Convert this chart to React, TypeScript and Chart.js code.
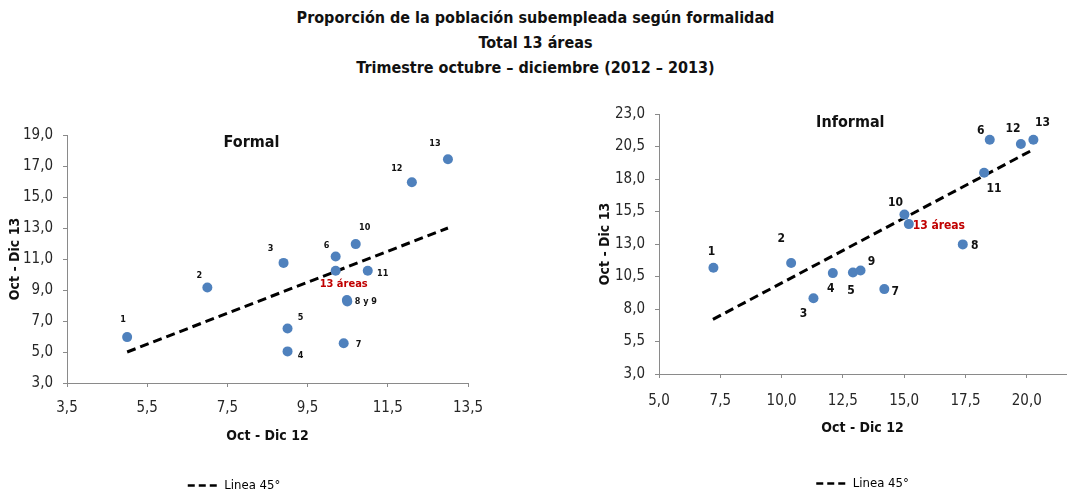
import React, { useEffect, useRef } from 'react';
import { Chart, registerables } from 'chart.js';

Chart.register(...registerables);

const FONT = '"Liberation Sans Narrow", "DejaVu Sans Condensed", "Noto Sans", sans-serif';

// ---------- data ----------
const formalLabels = ['1', '2', '3', '4', '5', '6', '7', '8 y 9', '', '10', '11', '12', '13', '13 áreas'];
const formalOct12 = [5.0, 7.0, 8.9, 9.0, 9.0, 10.2, 10.4, 10.48, 10.49, 10.7, 11.0, 12.1, 13.0, 10.2];
const formalOct13 = [5.96, 9.16, 10.75, 5.04, 6.52, 11.16, 5.56, 8.36, 8.26, 11.96, 10.24, 15.95, 17.43, 10.24];
const formalLineX = [5.0, 13.0];
const formalXTicks = [3.5, 5.5, 7.5, 9.5, 11.5, 13.5];
const formalYTicks = [3, 5, 7, 9, 11, 13, 15, 17, 19];

const informalLabels = ['1', '2', '3', '4', '5', '6', '7', '8', '9', '10', '11', '12', '13', '13 áreas'];
const informalOct12 = [7.22, 10.39, 11.3, 12.09, 12.91, 18.49, 14.19, 17.39, 13.22, 15.01, 18.26, 19.76, 20.27, 15.19];
const informalOct13 = [11.17, 11.54, 8.83, 10.76, 10.81, 21.02, 9.53, 12.97, 10.96, 15.26, 18.48, 20.69, 21.02, 14.53];
const informalLineX = [7.2, 20.3];
const informalXTicks = [5, 7.5, 10, 12.5, 15, 17.5, 20];
const informalYTicks = [3, 5.5, 8, 10.5, 13, 15.5, 18, 20.5, 23];

// ---------- label placement (pixel offsets from the point, style only) ----------
const formalLabelOffsets: [number, number][] = [
  [-4, -17], [-8, -12], [-13, -14], [13, 4], [13, -11], [-9, -11], [15, 1],
  [19, 2], [0, 0], [9, -16], [15, 3], [-15, -14], [-13, -16], [8, 13],
];
const informalLabelOffsets: [number, number][] = [
  [-2, -16], [-10, -24], [-10, 16], [-2, 16], [-2, 18], [-9, -9], [11, 3],
  [12, 1], [11, -9], [-9, -12], [10, 16], [-8, -15], [9, -17], [30, 2],
];

const fmt = (v: number) => v.toFixed(1).replace('.', ',');

const pointLabelPlugin = {
  id: 'pointLabels',
  afterDatasetsDraw(chart: any, _args: any, opts: any) {
    const meta = chart.getDatasetMeta(0);
    const ctx = chart.ctx;
    ctx.save();
    ctx.textAlign = 'center';
    ctx.textBaseline = 'middle';
    meta.data.forEach((el: any, i: number) => {
      const text = opts.labels[i];
      if (!text) return;
      const [dx, dy] = opts.offsets[i];
      const isTotal = i === opts.labels.length - 1;
      ctx.font = isTotal ? opts.totalFont : opts.font;
      ctx.fillStyle = isTotal ? '#C00000' : '#111';
      ctx.fillText(text, el.x + dx, el.y + dy);
    });
    // panel title inside plot area
    const ca = chart.chartArea;
    ctx.font = opts.titleFont;
    ctx.fillStyle = '#111';
    ctx.fillText(opts.title, ca.left + ca.width * opts.titleFx, ca.top + opts.titleDy);
    ctx.restore();
  },
};

type PanelProps = {
  left: number; top: number; width: number; height: number;
  title: string; titleFx: number; titleDy: number;
  labels: string[]; offsets: [number, number][];
  xs: number[]; ys: number[]; lineX: number[];
  xTicks: number[]; yTicks: number[];
  xMin: number; xMax: number; yMin: number; yMax: number;
  padding: { top: number; right: number; bottom: number; left: number };
  yWidth: number; xHeight: number; xTitlePad: number; xTickPad: number;
  legendFull: boolean; labelFont: string; totalFont: string;
};

function Panel(p: PanelProps) {
  const ref = useRef<HTMLCanvasElement>(null);
  useEffect(() => {
    const points = p.xs.map((x, i) => ({ x, y: p.ys[i] }));
    const line = p.lineX.map((x) => ({ x, y: x }));
    const axisColor = '#8a8a8a';
    const chart = new Chart(ref.current as HTMLCanvasElement, {
      type: 'scatter',
      data: {
        datasets: [
          {
            label: 'Áreas',
            data: points,
            pointRadius: 5,
            pointBackgroundColor: '#4F81BD',
            pointBorderColor: '#4F81BD',
            pointBorderWidth: 0,
            showLine: false,
          },
          {
            type: 'line',
            label: 'Linea 45°',
            data: line,
            borderColor: '#000',
            borderWidth: 3,
            borderDash: [9, 5],
            pointRadius: 0,
            fill: false,
            showLine: true,
          } as any,
        ],
      },
      options: {
        responsive: false,
        animation: false,
        events: [],
        layout: { padding: p.padding },
        scales: {
          x: {
            type: 'linear',
            min: p.xMin,
            max: p.xMax,
            afterBuildTicks: (axis: any) => { axis.ticks = p.xTicks.map((v) => ({ value: v })); },
            afterFit: (axis: any) => { axis.height = p.xHeight; },
            border: { color: axisColor, width: 1 },
            grid: { drawOnChartArea: false, drawTicks: true, tickLength: 4, color: axisColor },
            ticks: {
              padding: p.xTickPad,
              color: '#262626',
              font: { family: FONT, size: 15 },
              maxRotation: 0,
              callback: (v: any) => fmt(Number(v)),
            },
            title: {
              display: true,
              text: 'Oct - Dic 12',
              color: '#111',
              font: { family: FONT, size: 14, weight: 'bold' },
              padding: { top: 0, bottom: p.xTitlePad },
            },
          },
          y: {
            type: 'linear',
            min: p.yMin,
            max: p.yMax,
            afterBuildTicks: (axis: any) => { axis.ticks = p.yTicks.map((v) => ({ value: v })); },
            afterFit: (axis: any) => { axis.width = p.yWidth; },
            border: { color: axisColor, width: 1 },
            grid: { drawOnChartArea: false, drawTicks: true, tickLength: 4, color: axisColor },
            ticks: {
              padding: 10,
              color: '#262626',
              font: { family: FONT, size: 15 },
              callback: (v: any) => fmt(Number(v)),
            },
            title: {
              display: true,
              text: 'Oct - Dic 13',
              color: '#111',
              font: { family: FONT, size: 14, weight: 'bold' },
              padding: { top: 7, bottom: 0 },
            },
          },
        },
        plugins: {
          tooltip: { enabled: false },
          legend: {
            display: true,
            position: 'bottom',
            fullSize: p.legendFull,
            labels: {
              usePointStyle: true,
              pointStyle: 'line',
              pointStyleWidth: 30,
              padding: 8,
              color: '#222',
              font: { family: FONT, size: 13 },
              generateLabels: () => [
                {
                  text: 'Linea 45°',
                  strokeStyle: '#000',
                  fillStyle: '#000',
                  lineWidth: 2.5,
                  lineDash: [7, 4],
                  pointStyle: 'line',
                  hidden: false,
                  datasetIndex: 1,
                } as any,
              ],
            },
          },
          pointLabels: {
            labels: p.labels,
            offsets: p.offsets,
            font: p.labelFont,
            totalFont: p.totalFont,
            title: p.title,
            titleFx: p.titleFx,
            titleDy: p.titleDy,
            titleFont: `bold 16px ${FONT}`,
          },
        } as any,
      },
      plugins: [pointLabelPlugin],
    });
    return () => chart.destroy();
  }, []);
  return (
    <canvas
      ref={ref}
      width={p.width}
      height={p.height}
      style={{ position: 'absolute', left: p.left, top: p.top, width: p.width, height: p.height }}
    />
  );
}

export default function App() {
  return (
    <div style={{ position: 'fixed', left: 0, top: 0, width: 1071, height: 495, background: '#fff', overflow: 'hidden' }}>
      <div
        style={{
          position: 'absolute', left: 0, top: 5, width: 1071, textAlign: 'center',
          fontFamily: FONT, fontWeight: 'bold', fontSize: 16, lineHeight: '25px', color: '#111',
        }}
      >
        <div>Proporción de la población subempleada según formalidad</div>
        <div>Total 13 áreas</div>
        <div>Trimestre octubre – diciembre (2012 – 2013)</div>
      </div>
      <Panel
        left={0} top={95} width={500} height={410}
        title="Formal" titleFx={0.46} titleDy={8}
        labels={formalLabels} offsets={formalLabelOffsets}
        xs={formalOct12} ys={formalOct13} lineX={formalLineX}
        xTicks={formalXTicks} yTicks={formalYTicks}
        xMin={3.5} xMax={13.5} yMin={3} yMax={19}
        padding={{ top: 40, right: 32, bottom: 3, left: 0 }}
        yWidth={67} xHeight={88} xTitlePad={26} xTickPad={12}
        legendFull={true}
        labelFont={`bold 9px ${FONT}`} totalFont={`bold 11px ${FONT}`}
      />
      <Panel
        left={590} top={95} width={481} height={410}
        title="Informal" titleFx={0.47} titleDy={9}
        labels={informalLabels} offsets={informalLabelOffsets}
        xs={informalOct12} ys={informalOct13} lineX={informalLineX}
        xTicks={informalXTicks} yTicks={informalYTicks}
        xMin={5} xMax={21.6} yMin={3} yMax={23}
        padding={{ top: 14, right: 3, bottom: 5, left: 0 }}
        yWidth={69} xHeight={95} xTitlePad={32} xTickPad={14}
        legendFull={false}
        labelFont={`bold 12px ${FONT}`} totalFont={`bold 12px ${FONT}`}
      />
    </div>
  );
}
